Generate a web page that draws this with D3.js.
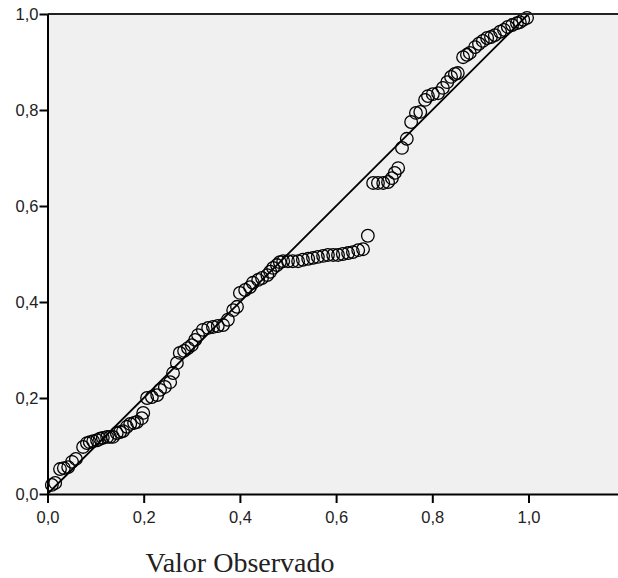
<!DOCTYPE html>
<html>
<head>
<meta charset="utf-8">
<script src="https://cdn.jsdelivr.net/npm/d3@7"></script>
<style>
  body { margin: 0; background: #fff; }
  svg { display: block; }
</style>
</head>
<body>
<div id="chart"></div>
<script>
const observado = [
    0.009, 0.016, 0.026, 0.034, 0.043, 0.051, 0.059, 0.074, 0.082, 0.088,
    0.095, 0.103, 0.109, 0.115, 0.124, 0.130, 0.136, 0.144, 0.151, 0.157,
    0.165, 0.172, 0.180, 0.186, 0.196, 0.199, 0.207, 0.217, 0.228, 0.234,
    0.244, 0.255, 0.261, 0.269, 0.275, 0.284, 0.292, 0.300, 0.307, 0.313,
    0.323, 0.334, 0.344, 0.354, 0.365, 0.375, 0.386, 0.394, 0.400, 0.411,
    0.421, 0.427, 0.438, 0.446, 0.457, 0.463, 0.469, 0.477, 0.483, 0.490,
    0.500, 0.510, 0.521, 0.531, 0.542, 0.552, 0.562, 0.573, 0.583, 0.594,
    0.604, 0.614, 0.625, 0.635, 0.646, 0.656, 0.666, 0.677, 0.687, 0.698,
    0.708, 0.716, 0.722, 0.729, 0.737, 0.747, 0.756, 0.766, 0.775, 0.785,
    0.791, 0.801, 0.812, 0.822, 0.831, 0.839, 0.847, 0.853, 0.864, 0.872,
    0.878, 0.889, 0.897, 0.905, 0.914, 0.922, 0.930, 0.941, 0.949, 0.957,
    0.966, 0.976, 0.982, 0.989, 0.997
];
const esperado = [
    0.019, 0.023, 0.052, 0.054, 0.056, 0.067, 0.073, 0.098, 0.106, 0.108,
    0.110, 0.112, 0.115, 0.117, 0.119, 0.119, 0.119, 0.127, 0.129, 0.131,
    0.140, 0.146, 0.148, 0.150, 0.158, 0.169, 0.200, 0.202, 0.206, 0.217,
    0.223, 0.233, 0.252, 0.273, 0.294, 0.298, 0.304, 0.310, 0.321, 0.331,
    0.342, 0.346, 0.348, 0.350, 0.352, 0.363, 0.383, 0.390, 0.419, 0.425,
    0.431, 0.440, 0.446, 0.450, 0.456, 0.463, 0.471, 0.477, 0.483, 0.485,
    0.485, 0.485, 0.485, 0.488, 0.490, 0.492, 0.494, 0.496, 0.498, 0.498,
    0.498, 0.500, 0.502, 0.504, 0.508, 0.510, 0.538, 0.648, 0.648, 0.648,
    0.650, 0.658, 0.669, 0.679, 0.721, 0.740, 0.775, 0.794, 0.796, 0.821,
    0.829, 0.833, 0.835, 0.846, 0.858, 0.869, 0.875, 0.877, 0.910, 0.915,
    0.919, 0.931, 0.938, 0.944, 0.950, 0.952, 0.956, 0.963, 0.967, 0.973,
    0.977, 0.981, 0.983, 0.988, 0.992
];
const ticks = [0, 0.2, 0.4, 0.6, 0.8, 1.0];
const linhaRef = [0, 1];
const tituloX = "Valor Observado";

const data = observado.map((v, i) => ({ x: v, y: esperado[i] }));

const margin = { top: 14, right: 0, bottom: 84, left: 47.5 },
    width = 618 - margin.left - margin.right,
    height = 578 - margin.top - margin.bottom;

const ptBR = d3.formatLocale({ decimal: ",", thousands: ".", grouping: [3], currency: ["R$", ""] });
const fmt = ptBR.format(".1f");

const svgContainer = d3.select("#chart").append("svg")
    .attr("width", 618)
    .attr("height", 578);

const svg = svgContainer.append("g")
    .attr("transform", `translate(${margin.left},${margin.top})`);

const x = d3.scaleLinear()
    .domain([0, width / 481])
    .range([0, width]);

const y = d3.scaleLinear()
    .domain([0, 1])
    .range([height, 0]);

svg.append("rect")
    .attr("width", width)
    .attr("height", height)
    .attr("fill", "#f0f0f0");

// linha de referencia
svg.append("line")
    .attr("x1", x(linhaRef[0]))
    .attr("y1", y(linhaRef[0]))
    .attr("x2", x(linhaRef[1]))
    .attr("y2", y(linhaRef[1]))
    .attr("stroke", "#000")
    .attr("stroke-width", 1.8);

svg.selectAll("circle")
    .data(data)
    .join("circle")
    .attr("cx", d => x(d.x))
    .attr("cy", d => y(d.y))
    .attr("r", 6.3)
    .attr("fill", "none")
    .attr("stroke", "#000")
    .attr("stroke-width", 1.3);

// borda superior
svg.append("line")
    .attr("x1", 0)
    .attr("x2", width)
    .attr("y1", 0)
    .attr("y2", 0)
    .attr("stroke", "#222")
    .attr("stroke-width", 1.8);

const xAxisGroup = svg.append("g")
    .attr("transform", `translate(0,${height})`)
    .call(d3.axisBottom(x).tickValues(ticks).tickFormat(fmt).tickSize(9).tickSizeOuter(0).tickPadding(8));

const yAxisGroup = svg.append("g")
    .call(d3.axisLeft(y).tickValues(ticks).tickFormat(fmt).tickSize(8).tickSizeOuter(0).tickPadding(1));

[xAxisGroup, yAxisGroup].forEach(g => {
    g.selectAll("line").style("stroke", "#000").style("stroke-width", 2);
    g.selectAll("path").style("stroke", "#000").style("stroke-width", 2);
    g.selectAll("text")
        .style("fill", "#222")
        .style("font-family", "'Liberation Sans', Arial, sans-serif")
        .style("font-size", "16.5px");
});

svgContainer.append("text")
    .attr("x", 240)
    .attr("y", 572)
    .attr("text-anchor", "middle")
    .style("font-family", "'Liberation Serif', 'DejaVu Serif', serif")
    .style("font-size", "28px")
    .style("fill", "#222")
    .text(tituloX);
</script>
</body>
</html>
